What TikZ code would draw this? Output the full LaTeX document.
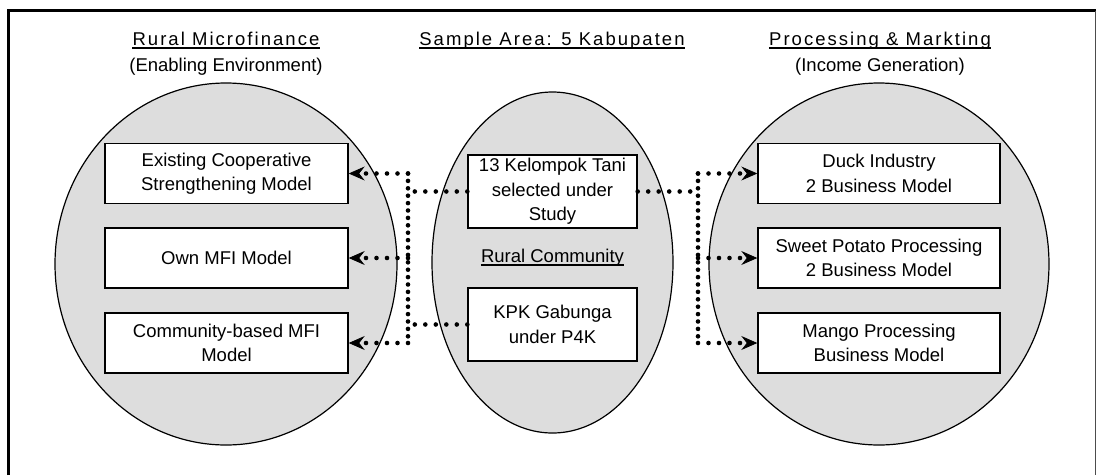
\documentclass[tikz,border=0pt]{standalone}
\usepackage{fontspec}
\setmainfont{Liberation Sans}
\newfontfamily\headfont[LetterSpace=11]{Liberation Sans}
\usetikzlibrary{shapes.geometric}
\usetikzlibrary{arrows.meta}
\definecolor{ellgray}{RGB}{221,221,221}
\tikzset{
  grp/.style={ellipse,draw,fill=ellgray,line width=1.2pt,inner sep=0pt},
  modelbox/.style={draw,fill=white,line width=1.4pt,minimum width=243pt,minimum height=60pt,align=center,inner sep=0pt},
  tanibox/.style={modelbox,minimum width=169pt,minimum height=73pt},
  dotline/.style={line width=4.6pt,line cap=round,dash pattern=on 0pt off 10.5pt},
  trunk/.style={dotline,dash pattern=on 0pt off 7.4pt},
  arr/.style={-{Stealth[length=16pt,width=14pt,inset=5.5pt,line width=0.8pt]}},
  ul/.style={line width=1.3pt}
}

\begin{document}
\begin{tikzpicture}[x=1pt,y=-1pt,font=\fontsize{18.5}{24.5}\selectfont]
\useasboundingbox (0,0) rectangle (1096,475);
\draw[line width=3pt] (8.5,475) -- (8.5,10.5) -- (1096,10.5);
\draw[line width=1pt,black!70] (1095,10.5) -- (1095,475);

\node[anchor=base,inner sep=0pt] (lhead) at (226,45) {\headfont Rural Microfinance};
\node[anchor=base,inner sep=0pt] (chead) at (552,45) {\headfont Sample Area: 5 Kabupaten};
\node[anchor=base,inner sep=0pt] (rhead) at (880,45) {\headfont Processing \& Markting};
\draw[ul] ([yshift=-3pt]lhead.base west) -- ([yshift=-3pt]lhead.base east);
\draw[ul] ([yshift=-3pt]chead.base west) -- ([yshift=-3pt]chead.base east);
\draw[ul] ([yshift=-3pt]rhead.base west) -- ([yshift=-3pt]rhead.base east);
\node[anchor=base,inner sep=0pt] (lsub) at (226,71) {(Enabling Environment)};
\node[anchor=base,inner sep=0pt] (rsub) at (880,71) {(Income Generation)};

\node[grp,minimum width=342pt,minimum height=362pt] (lgrp) at (226,264) {};
\node[grp,minimum width=241pt,minimum height=341pt] (cgrp) at (552.5,262.5) {};
\node[grp,minimum width=340pt,minimum height=362pt] (rgrp) at (879,264) {};

\node[modelbox] (l1) at (226.5,173.5) {Existing Cooperative\\Strengthening Model};
\node[modelbox] (l2) at (226.5,258) {Own MFI Model};
\node[modelbox] (l3) at (226.5,343) {Community-based MFI\\Model};

\node[tanibox] (t1) at (552.5,191.5) {13 Kelompok Tani\\selected under\\Study};
\node[anchor=base,inner sep=0pt] (rcom) at (552.5,262) {Rural Community};
\draw[ul] ([yshift=-3pt]rcom.base west) -- ([yshift=-3pt]rcom.base east);
\node[tanibox] (t2) at (552.5,324.5) {KPK Gabunga\\under P4K};

\node[modelbox,minimum width=242pt] (r1) at (879,173.5) {Duck Industry\\2 Business Model};
\node[modelbox,minimum width=242pt] (r2) at (879,258) {Sweet Potato Processing\\2 Business Model};
\node[modelbox,minimum width=242pt] (r3) at (879,343) {Mango Processing\\Business Model};

\coordinate (lj1) at (408,173.5);
\coordinate (lj2) at (408,258);
\coordinate (lj3) at (408,343);
\coordinate (rj1) at (698,173.5);
\coordinate (rj2) at (698,258);
\coordinate (rj3) at (698,343);

\draw[trunk] (lj1) -- (lj3);
\draw[trunk] (rj1) -- (rj3);
\draw[dotline] (t1.west) -- (t1.west -| lj1);
\draw[dotline] (t2.west) -- (t2.west -| lj1);
\draw[dotline] (t1.east) -- (t1.east -| rj1);
\draw[dotline,arr] (lj1) -- (l1.east);
\draw[dotline,arr] (lj2) -- (l2.east);
\draw[dotline,arr] (lj3) -- (l3.east);
\draw[dotline,arr] (rj1) -- (r1.west);
\draw[dotline,arr] (rj2) -- (r2.west);
\draw[dotline,arr] (rj3) -- (r3.west);
\end{tikzpicture}
\end{document}
